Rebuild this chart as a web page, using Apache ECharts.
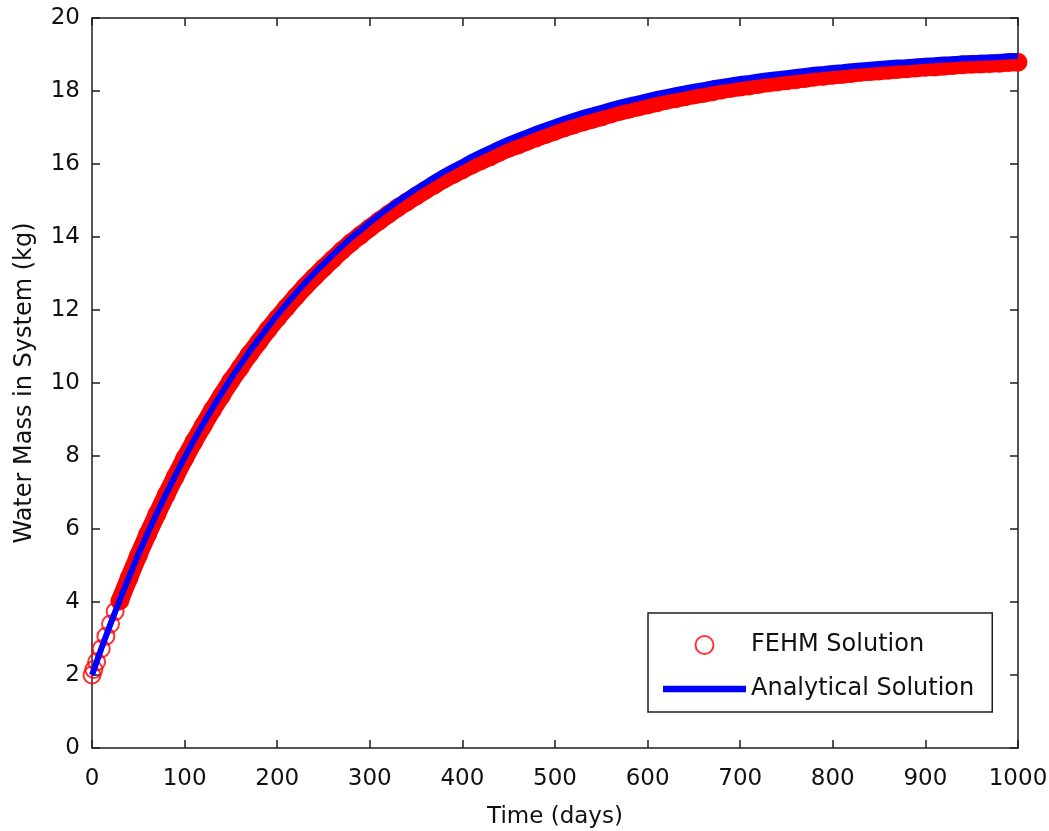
<!DOCTYPE html>
<html>
<head>
<meta charset="utf-8">
<script src="https://cdn.jsdelivr.net/npm/echarts@6/dist/echarts.min.js"></script>
<style>
html,body{margin:0;padding:0;background:#fff;}
#chart{width:1049px;height:831px;}
</style>
</head>
<body>
<div id="chart"></div>
<script>
// Analytical solution: time (days) and water mass (kg)
const analyticalTime = [0,10,20,30,40,50,60,70,80,90,100,110,120,130,140,150,160,170,180,190,200,210,220,230,240,250,260,270,280,290,300,310,320,330,340,350,360,370,380,390,400,410,420,430,440,450,460,470,480,490,500,510,520,530,540,550,560,570,580,590,600,610,620,630,640,650,660,670,680,690,700,710,720,730,740,750,760,770,780,790,800,810,820,830,840,850,860,870,880,890,900,910,920,930,940,950,960,970,980,990,1000];
const analyticalMass = [2.00,2.72,3.40,4.06,4.69,5.30,5.88,6.43,6.96,7.47,7.96,8.43,8.88,9.31,9.72,10.12,10.49,10.86,11.20,11.54,11.86,12.16,12.46,12.74,13.01,13.26,13.51,13.75,13.98,14.19,14.40,14.60,14.79,14.98,15.15,15.32,15.48,15.64,15.79,15.93,16.06,16.20,16.32,16.44,16.56,16.67,16.77,16.87,16.97,17.06,17.15,17.24,17.32,17.40,17.47,17.54,17.61,17.68,17.74,17.80,17.86,17.92,17.97,18.02,18.07,18.12,18.16,18.21,18.25,18.29,18.33,18.36,18.40,18.43,18.46,18.49,18.52,18.55,18.58,18.60,18.63,18.65,18.68,18.70,18.72,18.74,18.76,18.78,18.79,18.81,18.83,18.84,18.86,18.87,18.89,18.90,18.91,18.92,18.93,18.95,18.96];

// FEHM solution: time (days) and water mass (kg)
const fehmTime = [0,2,5,10,15,20,25,30,40,50,60,70,80,90,100,110,120,130,140,150,160,170,180,190,200,210,220,230,240,250,260,270,280,290,300,310,320,330,340,350,360,370,380,390,400,410,420,430,440,450,460,470,480,490,500,510,520,530,540,550,560,570,580,590,600,610,620,630,640,650,660,670,680,690,700,710,720,730,740,750,760,770,780,790,800,810,820,830,840,850,860,870,880,890,900,910,920,930,940,950,960,970,980,990,1000];
const fehmMass = [2.00,2.15,2.36,2.72,3.06,3.40,3.74,4.03,4.66,5.27,5.85,6.40,6.93,7.44,7.93,8.39,8.83,9.26,9.66,10.06,10.42,10.79,11.12,11.46,11.77,12.07,12.36,12.64,12.90,13.15,13.39,13.63,13.85,14.05,14.25,14.44,14.62,14.80,14.96,15.12,15.28,15.43,15.58,15.71,15.84,15.97,16.09,16.20,16.32,16.43,16.52,16.62,16.72,16.81,16.90,16.99,17.07,17.15,17.22,17.29,17.37,17.44,17.50,17.56,17.62,17.68,17.74,17.79,17.84,17.89,17.93,17.98,18.03,18.07,18.11,18.14,18.18,18.22,18.25,18.28,18.31,18.34,18.38,18.40,18.43,18.45,18.48,18.51,18.53,18.55,18.57,18.59,18.61,18.63,18.65,18.66,18.68,18.70,18.72,18.73,18.74,18.75,18.76,18.78,18.79];

const xTicks = [0,100,200,300,400,500,600,700,800,900,1000];
const yTicks = [0,2,4,6,8,10,12,14,16,18,20];

const seriesNames = ['FEHM Solution','Analytical Solution'];
const axisTitles = {x:'Time (days)', y:'Water Mass in System (kg)'};

const FONT = 'DejaVu Sans';
const AX = '#1e1e1e';

const fehmPts = fehmTime.map((t,i)=>[t,fehmMass[i]]);
const bandPts = fehmPts.filter(p=>p[0]>=30);
const anaPts = analyticalTime.map((t,i)=>[t,analyticalMass[i]]);

const chart = echarts.init(document.getElementById('chart'), null, {renderer:'canvas'});

function baseX(extra){
  return Object.assign({
    type:'value', min:xTicks[0], max:xTicks[xTicks.length-1], interval:100,
    axisLine:{show:true,onZero:false,lineStyle:{color:AX,width:1.5}},
    axisTick:{show:true,inside:true,length:8,lineStyle:{color:AX,width:1.5}},
    splitLine:{show:false}
  }, extra);
}
function baseY(extra){
  return Object.assign({
    type:'value', min:yTicks[0], max:yTicks[yTicks.length-1], interval:2,
    axisLine:{show:true,onZero:false,lineStyle:{color:AX,width:1.5}},
    axisTick:{show:true,inside:true,length:8,lineStyle:{color:AX,width:1.5}},
    splitLine:{show:false}
  }, extra);
}

chart.setOption({
  animation:false,
  backgroundColor:'#ffffff',
  grid:{left:92,right:31,top:18,bottom:83,containLabel:false,outerBoundsMode:'none'},
  xAxis:[
    baseX({position:'bottom',
      name:axisTitles.x, nameLocation:'middle', nameGap:58,
      nameTextStyle:{fontFamily:FONT,fontSize:23,color:'#111'},
      axisLabel:{show:true,margin:20,fontFamily:FONT,fontSize:23,color:'#111',
        formatter:function(v){return String(v);}}}),
    baseX({position:'top',axisLabel:{show:false}})
  ],
  yAxis:[
    baseY({position:'left',
      name:axisTitles.y, nameLocation:'middle', nameGap:55, nameRotate:90,
      nameTextStyle:{fontFamily:FONT,fontSize:24,color:'#111'},
      axisLabel:{show:true,margin:12,fontFamily:FONT,fontSize:23,color:'#111',
        formatter:function(v){return String(v);}}}),
    baseY({position:'right',axisLabel:{show:false}})
  ],
  legend:{
    data:[
      {name:seriesNames[0]},
      {name:seriesNames[1], icon:'path://M0,0L83,0L83,6.5L0,6.5Z', itemStyle:{color:'#0000ff'}}
    ],
    orient:'vertical',
    left:648, top:613,
    itemWidth:83, itemHeight:18, itemGap:20,
    symbolKeepAspect:true,
    padding:[20,18,11,15],
    borderColor:'#1e1e1e', borderWidth:1.5,
    backgroundColor:'#ffffff',
    textStyle:{fontFamily:FONT,fontSize:24,color:'#111'},
    selectedMode:false
  },
  series:[
    {
      name:'FEHM band', type:'line', data:bandPts,
      xAxisIndex:0, yAxisIndex:0,
      showSymbol:false, symbol:'none',
      lineStyle:{color:'#ff0000',width:18,cap:'round',join:'round'},
      silent:true, z:2
    },
    {
      name:seriesNames[0], type:'scatter', data:fehmPts,
      xAxisIndex:0, yAxisIndex:0,
      symbol:'circle', symbolSize:17, symbolKeepAspect:true,
      itemStyle:{color:'rgba(255,255,255,0)',borderColor:'#ff0000',borderWidth:2},
      clip:false, silent:true, z:3
    },
    {
      name:seriesNames[1], type:'line', data:anaPts,
      xAxisIndex:0, yAxisIndex:0,
      showSymbol:false, symbol:'none',
      lineStyle:{color:'#0000ff',width:6},
      itemStyle:{color:'#0000ff'},
      silent:true, z:4
    }
  ]
});
</script>
</body>
</html>
